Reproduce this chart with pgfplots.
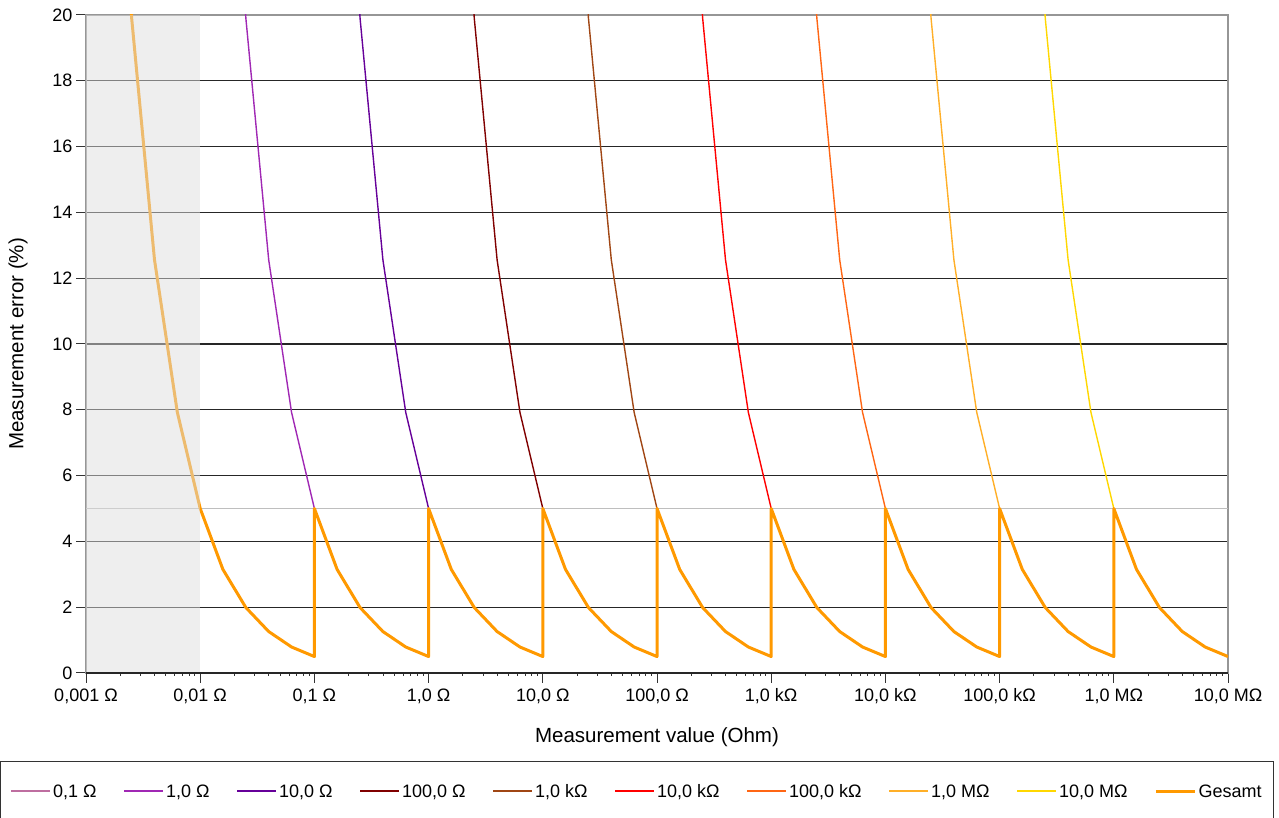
\documentclass[border=0pt]{standalone}
\usepackage{fontspec}
\setmainfont{Liberation Sans}
\usepackage{pgfplots}
\pgfplotsset{compat=1.18}
\definecolor{cA}{RGB}{190,110,160}
\definecolor{cB}{RGB}{160,40,180}
\definecolor{cC}{RGB}{102,0,153}
\definecolor{cD}{RGB}{128,0,0}
\definecolor{cE}{RGB}{160,70,20}
\definecolor{cF}{RGB}{255,0,0}
\definecolor{cG}{RGB}{255,102,20}
\definecolor{cH}{RGB}{255,175,40}
\definecolor{cI}{RGB}{255,215,0}
\definecolor{cGes}{RGB}{255,153,0}
\definecolor{bandgray}{RGB}{221,221,221}
\definecolor{framegray}{RGB}{150,150,150}
\definecolor{fiveline}{RGB}{190,190,190}

\pgfplotstableread{
x y
0.00158 31.55
0.00251 19.91
0.00398 12.56
0.00631 7.92
0.01 5
0.0158 3.15
0.0251 1.99
0.0398 1.26
0.0631 0.79
0.1 0.5
0.1 5
0.158 3.15
0.251 1.99
0.398 1.26
0.631 0.79
1 0.5
1 5
1.58 3.15
2.51 1.99
3.98 1.26
6.31 0.79
10 0.5
10 5
15.8 3.15
25.1 1.99
39.8 1.26
63.1 0.79
100 0.5
100 5
158 3.15
251 1.99
398 1.26
631 0.79
1000 0.5
1000 5
1580 3.15
2510 1.99
3980 1.26
6310 0.79
10000 0.5
10000 5
15800 3.15
25100 1.99
39800 1.26
63100 0.79
100000 0.5
100000 5
158000 3.15
251000 1.99
398000 1.26
631000 0.79
1000000 0.5
1000000 5
1580000 3.15
2510000 1.99
3980000 1.26
6310000 0.79
10000000 0.5
}\gesamt

\begin{document}
\begin{tikzpicture}
\begin{axis}[
  set layers,
  scale only axis, width=1142pt, height=658pt,
  at={(0pt,0pt)}, anchor=south west,
  xmode=log, xmin=1e-3, xmax=1e7, ymin=0, ymax=20,
  xtick={1e-3,1e-2,0.1,1,10,100,1000,1e4,1e5,1e6,1e7},
  xticklabels={{0,001 Ω},{0,01 Ω},{0,1 Ω},{1,0 Ω},{10,0 Ω},{100,0 Ω},{1,0 kΩ},{10,0 kΩ},{100,0 kΩ},{1,0 MΩ},{10,0 MΩ}},
  minor xtick={},
  ytick={0,2,...,20},
  /pgf/number format/assume math mode=true,
  tick align=outside, major tick length=10pt,
  tick style={black!80, line width=1pt},
  xtick pos=bottom, ytick pos=left,
  axis line style={draw=framegray, line width=1.2pt},
  ymajorgrids, major grid style={black!85, line width=1.2pt},
  tick label style={font=\fontsize{18}{21}\selectfont},
  xticklabel style={yshift=-2pt},
  label style={font=\fontsize{20.5}{24}\selectfont},
  xlabel={Measurement value (Ohm)},
  ylabel={Measurement error (\%)},
  xlabel style={at={(axis description cs:0.5,-0.0973)}, anchor=center},
  ylabel style={at={(axis description cs:-0.0595,0.5)}, anchor=center},
  legend columns=10,
  legend style={at={(axis description cs:-0.0753,-0.1353)}, anchor=north west,
    draw=none, fill=none, font=\fontsize{18}{21}\selectfont,
    inner xsep=10pt, inner ysep=20pt,
    /tikz/every even column/.append style={column sep=24.5pt}},
  legend cell align=left,
]
% 5 % reference line
\addplot[draw=fiveline, line width=1.2pt, forget plot] coordinates {(1e-3,5) (1e7,5)};
% ranges
\addplot[color=cA, line width=1.4pt, forget plot] coordinates {(0.00158,31.55) (0.00251,19.91) (0.00398,12.56) (0.00631,7.92) (0.01,5)};
\addplot[color=cB, line width=1.4pt, forget plot] coordinates {(0.0158,31.55) (0.0251,19.91) (0.0398,12.56) (0.0631,7.92) (0.1,5)};
\addplot[color=cC, line width=1.4pt, forget plot] coordinates {(0.158,31.55) (0.251,19.91) (0.398,12.56) (0.631,7.92) (1,5)};
\addplot[color=cD, line width=1.4pt, forget plot] coordinates {(1.58,31.55) (2.51,19.91) (3.98,12.56) (6.31,7.92) (10,5)};
\addplot[color=cE, line width=1.4pt, forget plot] coordinates {(15.8,31.55) (25.1,19.91) (39.8,12.56) (63.1,7.92) (100,5)};
\addplot[color=cF, line width=1.4pt, forget plot] coordinates {(158,31.55) (251,19.91) (398,12.56) (631,7.92) (1000,5)};
\addplot[color=cG, line width=1.4pt, forget plot] coordinates {(1580,31.55) (2510,19.91) (3980,12.56) (6310,7.92) (10000,5)};
\addplot[color=cH, line width=1.4pt, forget plot] coordinates {(15800,31.55) (25100,19.91) (39800,12.56) (63100,7.92) (100000,5)};
\addplot[color=cI, line width=1.4pt, forget plot] coordinates {(158000,31.55) (251000,19.91) (398000,12.56) (631000,7.92) (1000000,5)};
\addplot[color=cGes, line width=3pt, line join=round, forget plot] table[x=x,y=y] {\gesamt};
% shaded band below 0.01 Ohm
\addplot[draw=none, fill=bandgray, fill opacity=0.5, forget plot] coordinates {(1e-3,20) (1e-2,20)} \closedcycle;
% legend
\addlegendimage{legend image code/.code={\draw[color=cA, line width=2pt] (0pt,0pt) -- (39pt,0pt);}}
\addlegendentry{0,1 Ω}
\addlegendimage{legend image code/.code={\draw[color=cB, line width=2pt] (0pt,0pt) -- (39pt,0pt);}}
\addlegendentry{1,0 Ω}
\addlegendimage{legend image code/.code={\draw[color=cC, line width=2pt] (0pt,0pt) -- (39pt,0pt);}}
\addlegendentry{10,0 Ω}
\addlegendimage{legend image code/.code={\draw[color=cD, line width=2pt] (0pt,0pt) -- (39pt,0pt);}}
\addlegendentry{100,0 Ω}
\addlegendimage{legend image code/.code={\draw[color=cE, line width=2pt] (0pt,0pt) -- (39pt,0pt);}}
\addlegendentry{1,0 kΩ}
\addlegendimage{legend image code/.code={\draw[color=cF, line width=2pt] (0pt,0pt) -- (39pt,0pt);}}
\addlegendentry{10,0 kΩ}
\addlegendimage{legend image code/.code={\draw[color=cG, line width=2pt] (0pt,0pt) -- (39pt,0pt);}}
\addlegendentry{100,0 kΩ}
\addlegendimage{legend image code/.code={\draw[color=cH, line width=2pt] (0pt,0pt) -- (39pt,0pt);}}
\addlegendentry{1,0 MΩ}
\addlegendimage{legend image code/.code={\draw[color=cI, line width=2pt] (0pt,0pt) -- (39pt,0pt);}}
\addlegendentry{10,0 MΩ}
\addlegendimage{legend image code/.code={\draw[color=cGes, line width=3.5pt] (0pt,0pt) -- (39pt,0pt);}}
\addlegendentry{Gesamt}
\end{axis}
\draw[black!85, line width=1.4pt] (0pt,0pt) -- (1142pt,0pt);
\draw[black!80, line width=1pt] (-85.5pt,-160pt) -- (-85.5pt,-89pt) -- (1187pt,-89pt) -- (1187pt,-160pt);
\pgfresetboundingbox
\path[use as bounding box] (-86pt,-145pt) rectangle (1193pt,673pt);
\end{tikzpicture}
\end{document}
